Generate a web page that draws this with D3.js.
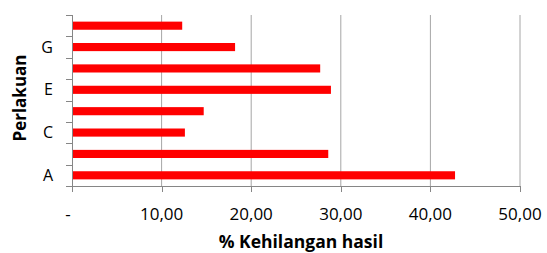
<!DOCTYPE html>
<html>
<head>
<meta charset="utf-8">
<script src="https://cdn.jsdelivr.net/npm/d3@7"></script>
<style>
  body { margin: 0; background: #fff; }
  text { font-family: "Open Sans", sans-serif; }
</style>
</head>
<body>
<svg id="chart"></svg>
<script>
var categories = ["A", "B", "C", "D", "E", "F", "G", "H"];
var values = [42.75, 28.6, 12.6, 14.7, 28.9, 27.7, 18.2, 12.3];
var shownLabels = ["A", "C", "E", "G"];
var xTicks = [0, 10, 20, 30, 40, 50];

var width = 547, height = 253;
var margin = ({top: 15, right: 27, bottom: 67, left: 72});

var svg = d3.select("#chart")
  .attr("width", width)
  .attr("height", height);

var x = d3.scaleLinear()
  .domain([0, 50])
  .range([margin.left, width - margin.right]);

var y = d3.scaleBand()
  .domain(categories)
  .range([height - margin.bottom, margin.top])
  .paddingInner(0.62)
  .paddingOuter(0.31);

// gridlines
svg.append("g")
  .selectAll("line")
  .data(xTicks.slice(1))
  .join("line")
    .attr("x1", d => x(d))
    .attr("x2", d => x(d))
    .attr("y1", margin.top)
    .attr("y2", height - margin.bottom)
    .attr("stroke", "#a6a6a6")
    .attr("stroke-width", 1);

// bars
svg.append("g")
  .selectAll("rect")
  .data(values)
  .join("rect")
    .attr("x", x(0))
    .attr("y", (d, i) => y(categories[i]))
    .attr("width", d => x(d) - x(0))
    .attr("height", y.bandwidth())
    .attr("fill", "#ff0000");

var step = y.step();
var catTicks = d3.range(categories.length + 1).map(i => height - margin.bottom - i * step);

// y axis
var yAxis = svg.append("g");
yAxis.append("line")
  .attr("x1", x(0) + 0.5).attr("x2", x(0) + 0.5)
  .attr("y1", margin.top).attr("y2", height - margin.bottom)
  .attr("stroke", "#868686");
yAxis.selectAll(".tk")
  .data(catTicks)
  .join("line")
    .attr("class", "tk")
    .attr("x1", x(0) - 6).attr("x2", x(0))
    .attr("y1", d => Math.round(d) + 0.5).attr("y2", d => Math.round(d) + 0.5)
    .attr("stroke", "#868686");
yAxis.selectAll("text")
  .data(shownLabels)
  .join("text")
    .attr("x", x(0) - 19)
    .attr("y", d => y(d) + y.bandwidth() / 2)
    .attr("dy", "0.35em")
    .attr("text-anchor", "end")
    .style("font-size", "16px")
    .attr("fill", "#000")
    .text(d => d);

// x axis
var xAxis = svg.append("g");
xAxis.append("line")
  .attr("x1", x(0)).attr("x2", x(50))
  .attr("y1", height - margin.bottom + 0.5).attr("y2", height - margin.bottom + 0.5)
  .attr("stroke", "#868686");
xAxis.selectAll(".tk")
  .data(xTicks)
  .join("line")
    .attr("class", "tk")
    .attr("x1", d => Math.round(x(d)) + 0.5).attr("x2", d => Math.round(x(d)) + 0.5)
    .attr("y1", height - margin.bottom).attr("y2", height - margin.bottom + 6)
    .attr("stroke", "#868686");
xAxis.selectAll("text")
  .data(xTicks)
  .join("text")
    .attr("x", d => d === 0 ? x(d) - 4 : x(d))
    .attr("y", 220)
    .attr("text-anchor", "middle")
    .style("font-size", "17px")
    .attr("fill", "#000")
    .text(d => d === 0 ? "-" : d3.format(".2f")(d).replace(".", ","));

svg.append("text")
  .attr("x", 301)
  .attr("y", 248)
  .attr("text-anchor", "middle")
  .style("font-size", "17.5px")
  .style("font-weight", "bold")
  .text("% Kehilangan hasil");

svg.append("text")
  .attr("transform", "rotate(-90)")
  .attr("x", -98)
  .attr("y", 26)
  .attr("text-anchor", "middle")
  .style("font-size", "17px")
  .style("font-weight", "bold")
  .text("Perlakuan");
</script>
</body>
</html>
